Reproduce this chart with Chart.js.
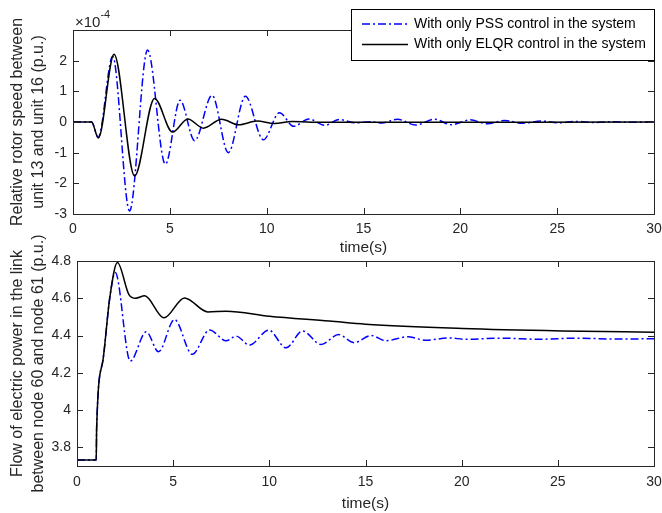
<!DOCTYPE html>
<html>
<head>
<meta charset="utf-8">
<script src="https://cdn.jsdelivr.net/npm/chart.js@4.4.1/dist/chart.umd.min.js"></script>
<style>
  html, body { margin: 0; padding: 0; background: #fff; }
  #wrap { position: relative; width: 662px; height: 513px; overflow: hidden; }
  #speedChart { position: absolute; left: 0; top: 0; }
  #powerChart { position: absolute; left: 0; top: 230px; }
</style>
</head>
<body>
<div id="wrap">
  <canvas id="speedChart" width="662" height="258"></canvas>
  <canvas id="powerChart" width="662" height="283"></canvas>
</div>
<script>
// Ticks
const timeTicks = [0, 5, 10, 15, 20, 25, 30];
const speedTicks = [-3, -2, -1, 0, 1, 2];
const powerTicks = [3.8, 4, 4.2, 4.4, 4.6, 4.8];

const legendLabels = [
    'With only PSS control in the system',
    'With only ELQR control in the system'
];

// Relative rotor speed (x 10^-4 p.u.), PSS
const speedTimePss = [0, 0.96, 1.3, 2.05, 2.92, 3.85, 4.77, 5.53, 6.28, 7.18, 8.02, 8.9, 9.83,
    10.66, 11.4, 12.18, 13.0, 13.75, 14.6, 15.35, 15.95, 16.75, 17.7, 18.65, 19.55, 20.5,
    21.4, 22.3, 23.2, 24.2, 25.1, 26.0, 26.9, 27.8, 28.7, 30];
const speedPss = [0, 0, -0.5, 2.14, -2.9, 2.35, -1.38, 0.71, -0.61, 0.87, -1.0, 0.84, -0.58,
    0.3, -0.14, 0.1, -0.11, 0.08, -0.03, 0.01, -0.03, 0.09, -0.1, 0.09, -0.09, 0.07,
    -0.06, 0.05, -0.04, 0.03, -0.025, 0.02, -0.015, 0.01, -0.01, 0];

// Relative rotor speed, ELQR
const speedTimeElqr = [0, 0.96, 1.31, 2.12, 3.18, 4.21, 5.14, 5.93, 6.73, 7.67, 8.55, 9.5, 10.4, 11.3, 12.3, 30];
const speedElqr = [0, 0, -0.52, 2.21, -1.76, 0.77, -0.33, 0.1, -0.2, 0.09, -0.09, 0.03, -0.05, 0.02, -0.01, 0];

// Power flow node 60 - node 61 (p.u.), PSS
const powerTimePss = [0, 1.0, 1.02, 1.35, 1.7, 1.99, 2.77, 3.6, 4.24, 5.07, 5.99, 6.89, 7.76,
    8.27, 8.97, 9.97, 10.87, 11.73, 12.69, 13.6, 14.4, 15.3, 16.06, 17.18, 18.14, 19.35,
    20.2, 22, 24, 26, 28, 30];
const powerPss = [3.732, 3.732, 3.9, 4.268, 4.6, 4.738, 4.263, 4.42, 4.313, 4.486, 4.299, 4.43, 4.372,
    4.397, 4.349, 4.429, 4.334, 4.424, 4.352, 4.405, 4.362, 4.4, 4.372, 4.393, 4.375, 4.387,
    4.38, 4.386, 4.38, 4.386, 4.381, 4.383];

// Power flow, ELQR
const powerTimeElqr = [0, 1.0, 1.02, 1.35, 1.7, 2.1, 2.7, 3.05, 3.52, 4.52, 5.59, 6.8, 7.76,
    10.0, 13.12, 15, 20.05, 25.2, 30];
const powerElqr = [3.732, 3.732, 3.9, 4.268, 4.6, 4.792, 4.62, 4.6, 4.613, 4.495, 4.602, 4.527, 4.531,
    4.504, 4.478, 4.461, 4.438, 4.425, 4.418];

const axisColor = '#262626';
const fontFamily = '"Liberation Sans", Arial, Helvetica, sans-serif';
Chart.defaults.font.family = fontFamily;
Chart.defaults.color = axisColor;

function toPoints(xs, ys) {
    return xs.map((x, i) => ({ x: x, y: ys[i] }));
}

// matlab style box with inward ticks
const boxTicks = {
    id: 'boxTicks',
    afterDraw(chart) {
        const { ctx, chartArea: a, scales } = chart;
        const len = 6;
        ctx.save();
        ctx.strokeStyle = axisColor;
        ctx.lineWidth = 1;
        ctx.beginPath();
        scales.x.ticks.forEach(t => {
            const px = Math.round(scales.x.getPixelForValue(t.value)) + 0.5;
            ctx.moveTo(px, a.bottom); ctx.lineTo(px, a.bottom - len);
            ctx.moveTo(px, a.top); ctx.lineTo(px, a.top + len);
        });
        scales.y.ticks.forEach(t => {
            const py = Math.round(scales.y.getPixelForValue(t.value)) + 0.5;
            ctx.moveTo(a.left, py); ctx.lineTo(a.left + len, py);
            ctx.moveTo(a.right, py); ctx.lineTo(a.right - len, py);
        });
        ctx.stroke();
        ctx.strokeRect(Math.round(a.left) + 0.5, Math.round(a.top) + 0.5,
            Math.round(a.width), Math.round(a.height));
        ctx.restore();
    }
};

// two line y title, drawn without the width limit of the scale title
const yTitle = {
    id: 'yTitle',
    afterDraw(chart, args, opts) {
        const { ctx, chartArea: a } = chart;
        ctx.save();
        ctx.translate(18, (a.top + a.bottom) / 2 + (opts.shift || 0));
        ctx.rotate(-Math.PI / 2);
        ctx.fillStyle = axisColor;
        ctx.font = '16px ' + fontFamily;
        ctx.textAlign = 'center';
        ctx.textBaseline = 'middle';
        opts.lines.forEach((line, i) => ctx.fillText(line, 0, i * 20.5));
        ctx.restore();
    }
};

// exponent label and legend of the top plot
const speedExtras = {
    id: 'speedExtras',
    afterDraw(chart) {
        const { ctx, chartArea: a } = chart;
        ctx.save();
        ctx.fillStyle = axisColor;
        ctx.textBaseline = 'alphabetic';
        ctx.font = '15px ' + fontFamily;
        ctx.fillText('\u00d710', a.left + 2, 27);
        const w = ctx.measureText('\u00d710').width;
        ctx.font = '11px ' + fontFamily;
        ctx.fillText('-4', a.left + 2 + w, 18);

        const left = a.right - 303, top = a.top - 21;
        ctx.fillStyle = '#fff';
        ctx.fillRect(left, top, 303, 51);
        ctx.strokeStyle = '#000';
        ctx.lineWidth = 1;
        ctx.strokeRect(left + 0.5, top + 0.5, 303, 51);
        ctx.font = '14px ' + fontFamily;
        ctx.textBaseline = 'middle';
        chart.data.datasets.forEach((ds, i) => {
            const yRow = top + 15 + i * 20.5;
            ctx.strokeStyle = ds.borderColor;
            ctx.lineWidth = ds.borderWidth;
            ctx.setLineDash(ds.borderDash || []);
            ctx.beginPath();
            ctx.moveTo(left + 11, yRow);
            ctx.lineTo(left + 57, yRow);
            ctx.stroke();
            ctx.setLineDash([]);
            ctx.fillStyle = '#000';
            ctx.fillText(ds.label, left + 63, yRow);
        });
        ctx.restore();
    }
};

function makeOptions(yMin, yMax, yTickValues, titleLines, yWidth, xHeight, padTop, tickPad, titlePad) {
    return {
        responsive: false,
        animation: false,
        events: [],
        layout: { padding: { top: padTop, right: 8, bottom: 0, left: 0 } },
        plugins: {
            legend: { display: false },
            tooltip: { enabled: false },
            yTitle: { lines: titleLines }
        },
        elements: { point: { radius: 0 } },
        scales: {
            x: {
                type: 'linear',
                min: 0,
                max: 30,
                afterBuildTicks: s => { s.ticks = timeTicks.map(v => ({ value: v })); },
                afterFit: s => { s.height = xHeight; s.paddingLeft = 0; s.paddingRight = 0; },
                grid: { display: false, drawTicks: false },
                border: { display: false },
                ticks: { padding: tickPad, maxRotation: 0, autoSkip: false, font: { size: 14 }, color: axisColor },
                title: {
                    display: true,
                    text: 'time(s)',
                    color: axisColor,
                    font: { size: 15.5 },
                    padding: { top: 0, bottom: titlePad }
                }
            },
            y: {
                type: 'linear',
                min: yMin,
                max: yMax,
                afterBuildTicks: s => { s.ticks = yTickValues.map(v => ({ value: v })); },
                afterFit: s => { s.width = yWidth; s.paddingTop = 0; s.paddingBottom = 0; },
                grid: { display: false, drawTicks: false },
                border: { display: false },
                ticks: {
                    padding: 6,
                    font: { size: 14 },
                    color: axisColor,
                    callback: v => String(Math.round(v * 10) / 10)
                }
            }
        }
    };
}

function makeDatasets(xsPss, ysPss, xsElqr, ysElqr) {
    return [
        {
            label: legendLabels[0],
            data: toPoints(xsPss, ysPss),
            borderColor: '#0000ff',
            borderWidth: 1.5,
            borderDash: [8, 3, 2, 3],
            cubicInterpolationMode: 'monotone',
            fill: false,
            order: 1
        },
        {
            label: legendLabels[1],
            data: toPoints(xsElqr, ysElqr),
            borderColor: '#000000',
            borderWidth: 1.5,
            cubicInterpolationMode: 'monotone',
            fill: false,
            order: 0
        }
    ];
}

new Chart(document.getElementById('speedChart'), {
    type: 'line',
    data: { datasets: makeDatasets(speedTimePss, speedPss, speedTimeElqr, speedElqr) },
    options: makeOptions(-3, 3, speedTicks,
        ['Relative rotor speed between', 'unit 13 and unit 16 (p.u.)'], 73, 44, 30, 7, 1),
    plugins: [boxTicks, yTitle, speedExtras]
});

new Chart(document.getElementById('powerChart'), {
    type: 'line',
    data: { datasets: makeDatasets(powerTimePss, powerPss, powerTimeElqr, powerElqr) },
    options: makeOptions(3.7, 4.8, powerTicks,
        ['Flow of electric power in the link', 'between node 60 and node 61 (p.u.)'], 77, 47, 31, 8, 0),
    plugins: [boxTicks, yTitle]
});
</script>
</body>
</html>
